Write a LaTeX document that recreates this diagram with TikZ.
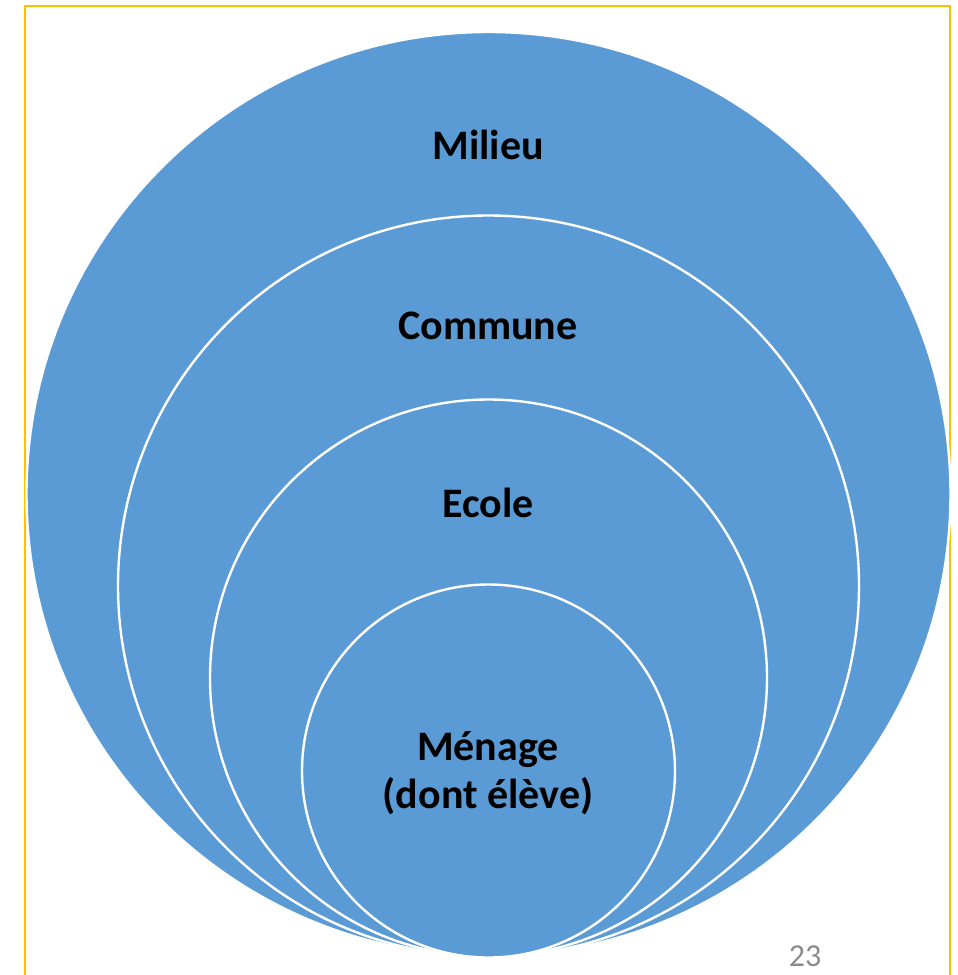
\documentclass[tikz,border=0pt]{standalone}
\usepackage{fontspec}
\setmainfont{Carlito}
\definecolor{ringblue}{HTML}{5B9BD5}
\definecolor{frameyellow}{HTML}{FFC000}
\definecolor{pagegray}{HTML}{8C8C8C}
\begin{document}
\begin{tikzpicture}[x=1pt,y=-1pt,
  ring/.style={circle,fill=ringblue,draw=white,line width=2.4pt,inner sep=0pt,minimum size=#1},
  label/.style={font=\fontsize{42}{50}\selectfont\bfseries,text=black,anchor=base,align=center,inner sep=0pt},
  frameline/.style={draw=frameyellow,line width=2pt}]
\useasboundingbox (0,0) rectangle (958,975);
% frame
\coordinate (fbl) at (25,975);
\coordinate (ftl) at (25,6);
\coordinate (ftr) at (950,6);
\coordinate (fbr) at (950,975);
\draw[frameline] (fbl) -- (ftl) -- (ftr) -- (fbr);
% rings
\node[ring=924pt] (milieu) at (488.5,494) {};
\node[ring=741pt] (commune) at (488.5,586) {};
\node[ring=557pt] (ecole) at (488.5,678) {};
\node[ring=373pt] (menage) at (488.5,771) {};
% labels
\node[label] (tmilieu) at (488,159) {Milieu};
\node[label] (tcommune) at (488,339) {Commune};
\node[label] (tecole) at (488,517) {Ecole};
\node[label] (tmenage) at (488,760) {Ménage};
\node[label] (tdont) at (488,808) {(dont élève)};
% page number
\node[font=\fontsize{32}{38}\selectfont,text=pagegray,anchor=base,inner sep=0pt] (page) at (805,966) {23};
\end{tikzpicture}
\end{document}
